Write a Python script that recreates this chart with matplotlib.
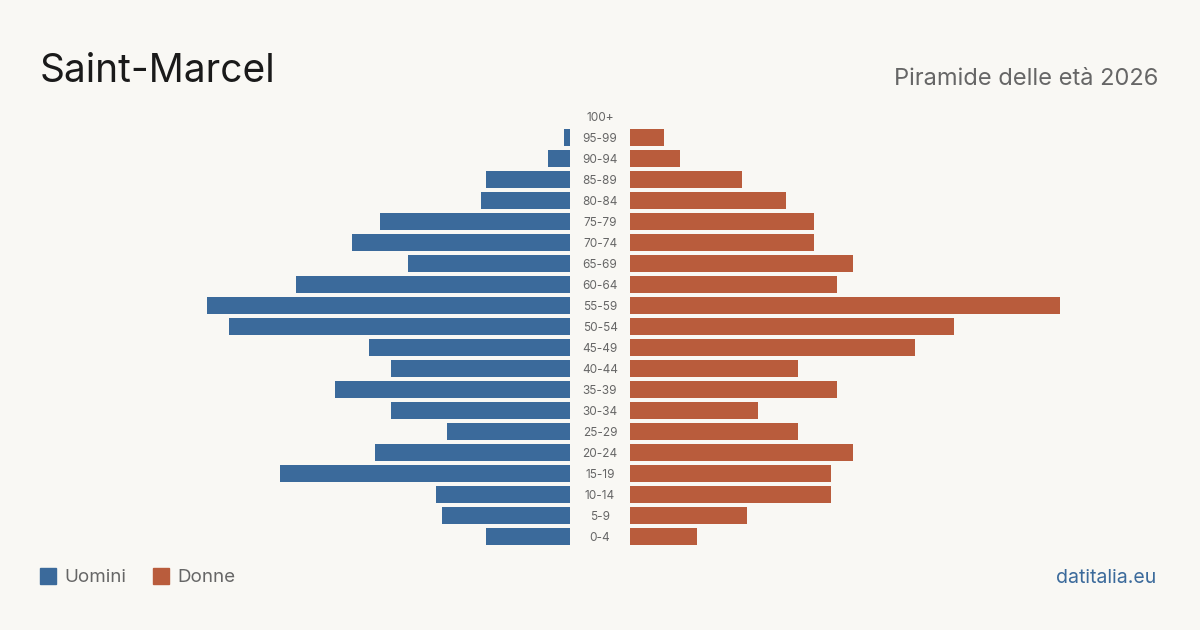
import matplotlib
matplotlib.use("Agg")
import matplotlib.pyplot as plt
from matplotlib.patches import Rectangle

age_groups = ["0-4", "5-9", "10-14", "15-19", "20-24", "25-29", "30-34", "35-39",
              "40-44", "45-49", "50-54", "55-59", "60-64", "65-69", "70-74",
              "75-79", "80-84", "85-89", "90-94", "95-99", "100+"]
men = [15, 23, 24, 52, 35, 22, 32, 42, 32, 36, 61, 65, 49, 29, 39, 34, 16, 15, 4, 1, 0]
women = [12, 21, 36, 36, 40, 30, 23, 37, 30, 51, 58, 77, 37, 40, 33, 33, 28, 20, 9, 6, 0]

BG = "#f9f8f4"
BLUE = "#3b6a9b"
ORANGE = "#b95c3c"

plt.rcParams['font.family'] = ['Inter', 'DejaVu Sans']

W, H = 1200, 630
fig = plt.figure(figsize=(12, 6.3), dpi=100, facecolor=BG)

unit = 5.585  # px per person
half_w = 470
top_px, bot_px = 105.5, 546.5
n = len(age_groups)

axL = fig.add_axes([(570 - half_w) / W, 1 - bot_px / H, half_w / W, (bot_px - top_px) / H])
axR = fig.add_axes([630 / W, 1 - bot_px / H, half_w / W, (bot_px - top_px) / H])
for ax in (axL, axR):
    ax.set_facecolor("none")
    ax.set_ylim(-0.5, n - 0.5)
    ax.axis("off")
axL.set_xlim(half_w / unit, 0)
axR.set_xlim(0, half_w / unit)

y = list(range(n))
axL.barh(y, men, height=17 / 21, color=BLUE)
axR.barh(y, women, height=17 / 21, color=ORANGE)

for i, lab in enumerate(age_groups):
    ypx = 538 - i * 21
    fig.text(600 / W, 1 - ypx / H, lab, ha="center", va="center",
             fontsize=8.5, color="#666666")

fig.text(40 / W, 1 - 82 / H, "Saint-Marcel", fontsize=28, color="#1a1a1a",
         ha="left", va="baseline")
fig.text(1158 / W, 1 - 85 / H, "Piramide delle età 2026", fontsize=17,
         color="#666666", ha="right", va="baseline")

# legend
fig.patches.append(Rectangle((40 / W, 1 - 584 / H), 16 / W, 16 / H,
                             transform=fig.transFigure, color=BLUE))
fig.text(64 / W, 1 - 578 / H, "Uomini", fontsize=13.5, color="#666666",
         ha="left", va="center")
fig.patches.append(Rectangle((153 / W, 1 - 584 / H), 16 / W, 16 / H,
                             transform=fig.transFigure, color=ORANGE))
fig.text(177 / W, 1 - 578 / H, "Donne", fontsize=13.5, color="#666666",
         ha="left", va="center")

fig.text(1156 / W, 1 - 578 / H, "datitalia.eu", fontsize=14, color=BLUE,
         ha="right", va="center")

fig.savefig("out.png", dpi=100, facecolor=BG)
